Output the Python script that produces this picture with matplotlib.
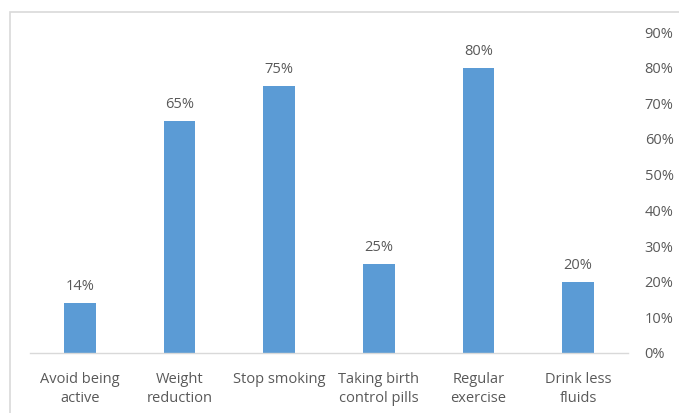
import matplotlib
matplotlib.use("Agg")
import matplotlib.pyplot as plt
from matplotlib.patches import Rectangle
from matplotlib.ticker import PercentFormatter

categories = ["Avoid being\nactive", "Weight\nreduction", "Stop smoking",
              "Taking birth\ncontrol pills", "Regular\nexercise", "Drink less\nfluids"]
values = [14, 65, 75, 25, 80, 20]
yticks = [0, 10, 20, 30, 40, 50, 60, 70, 80, 90]

BAR = "#5B9BD5"
TEXT = "#595959"
LINE = "#D9D9D9"

plt.rcParams.update({"font.family": ["Open Sans", "DejaVu Sans"], "font.size": 10.5})

fig = plt.figure(figsize=(6.79, 4.13), dpi=100)
# chart-area frame (runs off the right and bottom edges)
fig.patches.append(Rectangle((10 / 679, -0.2), 1.2, 1 - 12 / 413 + 0.2,
                             transform=fig.transFigure, fill=False,
                             edgecolor=LINE, lw=1.2))

ax = fig.add_axes([30 / 679, 60 / 413, 598 / 679, 321 / 413])
x = range(len(values))
ax.bar(x, values, width=0.32, color=BAR)
for i, v in enumerate(values):
    ax.text(i, v + 2.5, f"{v}%", ha="center", va="bottom", color=TEXT, fontsize=10.5)

ax.set_xlim(-0.5, len(values) - 0.5)
ax.set_ylim(0, 90)
ax.set_xticks(list(x))
ax.set_xticklabels(categories, color=TEXT, linespacing=1.35)
ax.set_yticks(yticks)
ax.yaxis.set_major_formatter(PercentFormatter(decimals=0))
ax.yaxis.tick_right()
ax.tick_params(axis="y", length=0, pad=12, colors=TEXT)
ax.tick_params(axis="x", length=0, pad=14)
for s in ("top", "left", "right"):
    ax.spines[s].set_visible(False)
ax.spines["bottom"].set_color(LINE)
ax.spines["bottom"].set_linewidth(1.0)

fig.savefig("out.png", dpi=100)
